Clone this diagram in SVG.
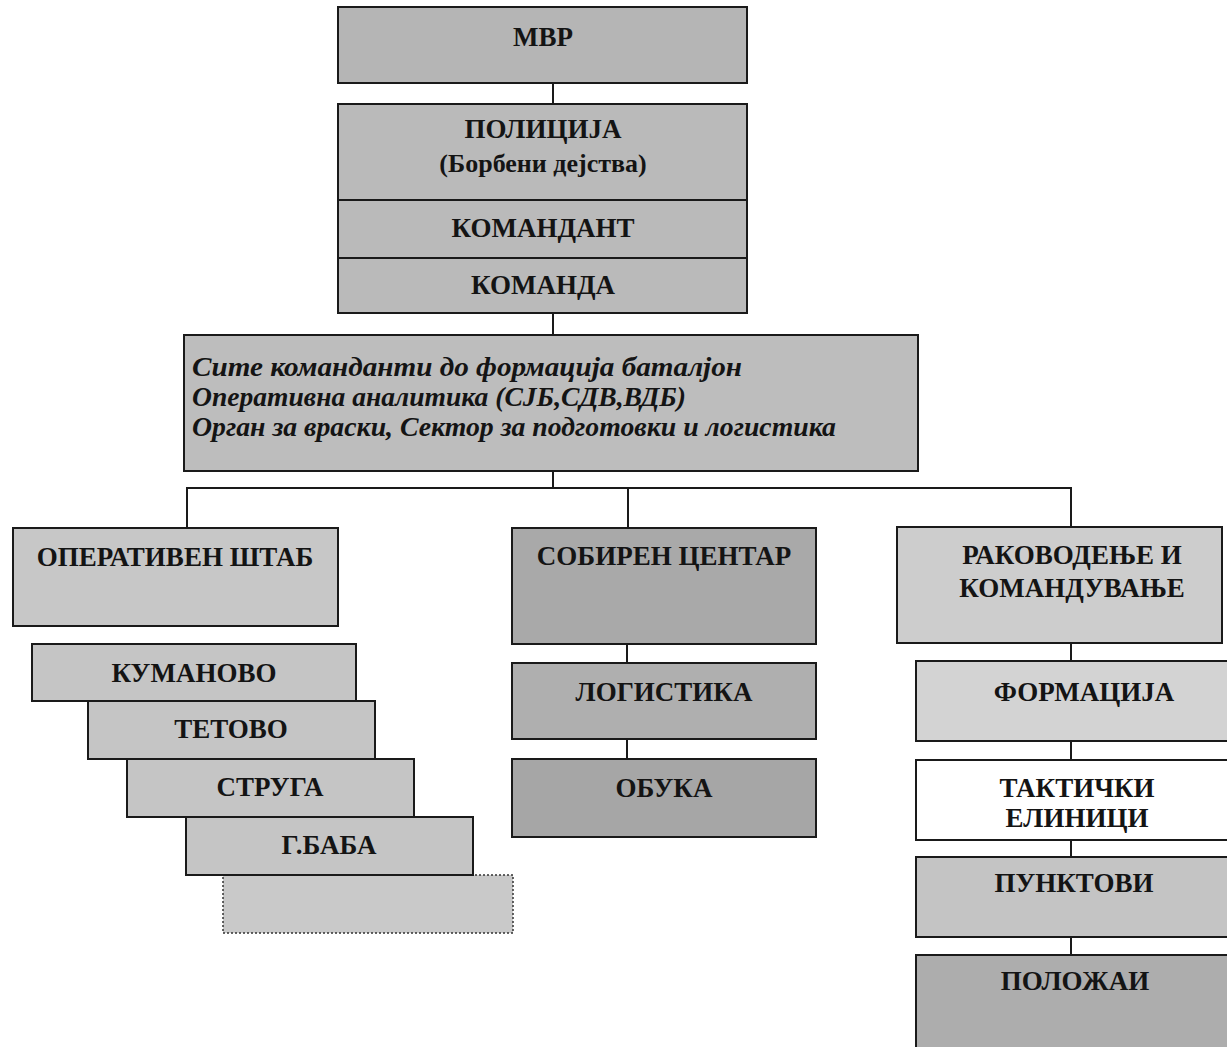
<svg xmlns="http://www.w3.org/2000/svg" width="1227" height="1047" viewBox="0 0 1227 1047">
<style>
.box{stroke:#1a1a1a;stroke-width:2}
.t{font-family:"Liberation Serif","Times New Roman",serif;font-weight:bold;font-size:27px;fill:#141414;text-anchor:middle;dominant-baseline:central}
.s{font-size:26px}
.it{font-family:"Liberation Serif","Times New Roman",serif;font-weight:bold;font-style:italic;font-size:28px;fill:#141414;dominant-baseline:central}
.c{stroke:#1a1a1a;stroke-width:2;fill:none}
</style>
<rect width="1227" height="1047" fill="#ffffff"/>
<g id="connectors">
<line class="c" x1="553" y1="83" x2="553" y2="104"/>
<line class="c" x1="553" y1="313" x2="553" y2="335"/>
<line class="c" x1="553" y1="471" x2="553" y2="488"/>
<polyline class="c" points="187,528 187,488 1071,488 1071,527"/>
<line class="c" x1="628" y1="488" x2="628" y2="528"/>
<line class="c" x1="627" y1="644" x2="627" y2="663"/>
<line class="c" x1="627" y1="739" x2="627" y2="759"/>
<line class="c" x1="1071" y1="643" x2="1071" y2="661"/>
<line class="c" x1="1071" y1="741" x2="1071" y2="760"/>
<line class="c" x1="1071" y1="840" x2="1071" y2="857"/>
<line class="c" x1="1071" y1="937" x2="1071" y2="955"/>
</g>
<g id="mvr"><rect class="box" x="338" y="7" width="409" height="76" fill="#b5b5b5"/><text class="t" x="543" y="37">МВР</text></g>
<g id="policija"><rect class="box" x="338" y="104" width="409" height="96" fill="#bababa"/><text class="t" x="543" y="129">ПОЛИЦИЈА</text><text class="t s" x="543" y="163">(Борбени дејства)</text></g>
<g id="komandant"><rect class="box" x="338" y="200" width="409" height="58" fill="#bababa"/><text class="t" x="543" y="228">КОМАНДАНТ</text></g>
<g id="komanda"><rect class="box" x="338" y="258" width="409" height="55" fill="#bababa"/><text class="t" x="543" y="285">КОМАНДА</text></g>
<g id="site"><rect class="box" x="184" y="335" width="734" height="136" fill="#bdbdbd"/>
<text class="it" x="192" y="366" textLength="550" lengthAdjust="spacingAndGlyphs">Сите команданти до формација баталјон</text>
<text class="it" x="192" y="396" textLength="494" lengthAdjust="spacingAndGlyphs">Оперативна аналитика (СЈБ,СДВ,ВДБ)</text>
<text class="it" x="192" y="426" textLength="644" lengthAdjust="spacingAndGlyphs">Орган за враски, Сектор за подготовки и логистика</text></g>
<g id="operativen"><rect class="box" x="13" y="528" width="325" height="98" fill="#c7c7c7"/><text class="t" x="175" y="557">ОПЕРАТИВЕН ШТАБ</text></g>
<g id="dotted"><rect x="223" y="875" width="290" height="58" fill="#c9c9c9" stroke="#333" stroke-width="1.5" stroke-dasharray="2,2"/></g>
<g id="gbaba"><rect class="box" x="186" y="817" width="287" height="58" fill="#c5c5c5"/><text class="t" x="329" y="845">Г.БАБА</text></g>
<g id="struga"><rect class="box" x="127" y="759" width="287" height="58" fill="#c5c5c5"/><text class="t" x="270" y="787">СТРУГА</text></g>
<g id="tetovo"><rect class="box" x="88" y="701" width="287" height="58" fill="#c5c5c5"/><text class="t" x="231" y="729">ТЕТОВО</text></g>
<g id="kumanovo"><rect class="box" x="32" y="644" width="324" height="57" fill="#c5c5c5"/><text class="t" x="194" y="673">КУМАНОВО</text></g>
<g id="sobiren"><rect class="box" x="512" y="528" width="304" height="116" fill="#a9a9a9"/><text class="t" x="664" y="556">СОБИРЕН ЦЕНТАР</text></g>
<g id="logistika"><rect class="box" x="512" y="663" width="304" height="76" fill="#afafaf"/><text class="t" x="664" y="692">ЛОГИСТИКА</text></g>
<g id="obuka"><rect class="box" x="512" y="759" width="304" height="78" fill="#a6a6a6"/><text class="t" x="664" y="788">ОБУКА</text></g>
<g id="rakovodenje"><rect class="box" x="897" y="527" width="325" height="116" fill="#cdcdcd"/><text class="t" x="1072" y="555">РАКОВОДЕЊЕ И</text><text class="t" x="1072" y="588">КОМАНДУВАЊЕ</text></g>
<g id="formacija"><rect class="box" x="916" y="661" width="320" height="80" fill="#d3d3d3"/><text class="t" x="1084" y="692">ФОРМАЦИЈА</text></g>
<g id="takticki"><rect class="box" x="916" y="760" width="320" height="80" fill="#ffffff"/><text class="t" x="1077" y="788">ТАКТИЧКИ</text><text class="t" x="1077" y="818">ЕЛИНИЦИ</text></g>
<g id="punktovi"><rect class="box" x="916" y="857" width="320" height="80" fill="#c4c4c4"/><text class="t" x="1074" y="883">ПУНКТОВИ</text></g>
<g id="polozai"><rect class="box" x="916" y="955" width="320" height="100" fill="#adadad"/><text class="t" x="1075" y="981">ПОЛОЖАИ</text></g>
</svg>
